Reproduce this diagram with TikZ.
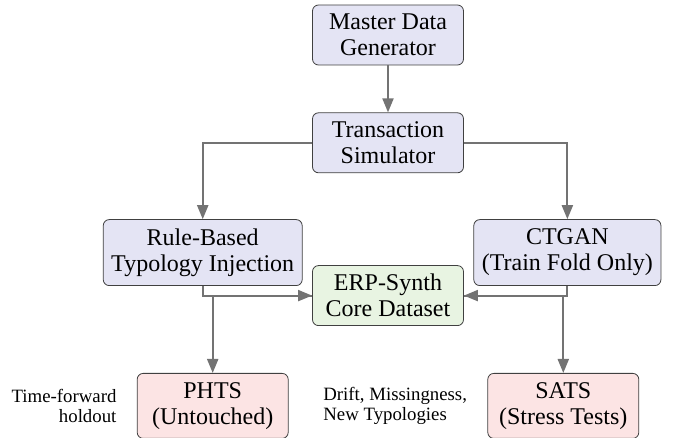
\documentclass[tikz,border=0pt]{standalone}
\usepackage{fontspec}
\setmainfont{Liberation Serif}
\usepackage{xcolor}
\usetikzlibrary{arrows.meta, positioning}

\definecolor{genfill}{RGB}{228,228,244}
\definecolor{corefill}{RGB}{232,244,226}
\definecolor{evalfill}{RGB}{252,228,228}

\begin{document}
\begin{tikzpicture}[
    box/.style={draw=black!75, rounded corners=3pt, align=center, minimum width=75.5pt, minimum height=30pt, inner xsep=4pt, inner ysep=2pt, font=\fontsize{12}{13}\selectfont},
    gen/.style={box, fill=genfill},
    core/.style={box, fill=corefill},
    evalbox/.style={box, fill=evalfill, minimum height=32.5pt},
    note/.style={font=\fontsize{9.4}{10}\selectfont, inner sep=0pt},
    arrow/.style={-{Triangle[length=7pt, width=5.5pt]}, draw=black!55, line width=1pt}
]
    \useasboundingbox (0,0) rectangle (340.5pt,-219pt);

    \node[gen] (master) at (194pt,-17.5pt) {Master Data\\Generator};
    \node[gen, below=23.5pt of master] (trans) {Transaction\\Simulator};
    \node[gen, minimum height=33pt, below left=23pt and 4.75pt of trans] (rule) {Rule-Based\\Typology Injection};
    \node[gen, minimum height=33pt, below right=23pt and 4.75pt of trans] (ctgan) {CTGAN\\(Train Fold Only)};
    \node[core, below=46pt of trans] (erp) {ERP-Synth\\Core Dataset};
    \node[evalbox, below left=23.5pt and 11.75pt of erp] (phts) {PHTS\\(Untouched)};
    \node[evalbox, below right=23.5pt and 11.75pt of erp] (sats) {SATS\\(Stress Tests)};

    \node[note, align=right, left=10pt of phts] (holdout) {Time-forward\\holdout};
    \node[note, align=left, left=10pt of sats] (drift) {Drift, Missingness,\\New Typologies};

    \draw[arrow] (master) -- (trans);
    \draw[arrow] (trans) -| (rule);
    \draw[arrow] (trans) -| (ctgan);
    \draw[arrow] (rule) |- (erp);
    \draw[arrow] (ctgan) |- (erp);
    \draw[arrow] (erp) -| (phts);
    \draw[arrow] (erp) -| (sats);
\end{tikzpicture}
\end{document}
